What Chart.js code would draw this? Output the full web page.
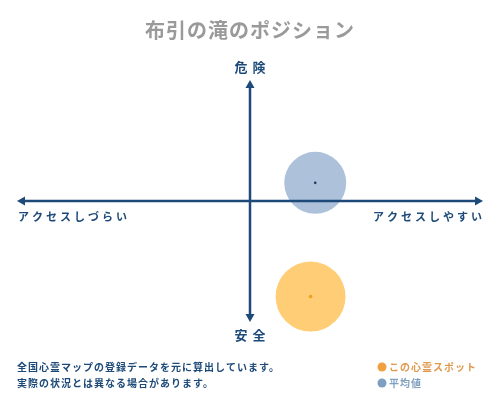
<!DOCTYPE html>
<html>
<head>
<meta charset="utf-8">
<script src="https://cdn.jsdelivr.net/npm/chart.js@4"></script>
<style>
  html, body { margin: 0; padding: 0; background: #fff; }
  #wrap { width: 500px; height: 400px; }
</style>
</head>
<body>
<div id="wrap"><canvas id="pos"></canvas></div>
<script>
// position of this spot and of the average (x: access, y: danger), range -10..10
const spotNames = ["この心霊スポット", "平均値"];
const spotX = [2.6, 2.8];
const spotY = [-7.9, 1.5];
const spotR = [35, 31];

const titleText = "布引の滝のポジション";
const axisTop = "危険", axisBottom = "安全";
const axisLeft = "アクセスしづらい", axisRight = "アクセスしやすい";
const noteLines = ["全国心霊マップの登録データを元に算出しています。", "実際の状況とは異なる場合があります。"];

const navy = "#1d4a78";
const font = "'Noto Sans CJK JP', 'DejaVu Serif', serif";

// axes with arrows (on top of the bubbles) plus all the labels
const decor = {
  id: "decor",
  afterDatasetsDraw(chart) {
    const ctx = chart.ctx;
    const sx = chart.scales.x, sy = chart.scales.y;
    const cx = sx.getPixelForValue(0), cy = sy.getPixelForValue(0);
    const l = sx.getPixelForValue(-10), r = sx.getPixelForValue(10);
    const t = sy.getPixelForValue(10), b = sy.getPixelForValue(-10);
    ctx.save();
    ctx.strokeStyle = navy; ctx.fillStyle = navy; ctx.lineWidth = 2.5;
    ctx.beginPath();
    ctx.moveTo(l + 4, cy); ctx.lineTo(r - 4, cy);
    ctx.moveTo(cx, t + 4); ctx.lineTo(cx, b - 4);
    ctx.stroke();
    const arrow = (x, y, dx, dy) => {
      ctx.beginPath();
      ctx.moveTo(x, y);
      ctx.lineTo(x - dx * 8 - dy * 4.5, y - dy * 8 - dx * 4.5);
      ctx.lineTo(x - dx * 8 + dy * 4.5, y - dy * 8 + dx * 4.5);
      ctx.closePath(); ctx.fill();
    };
    arrow(r, cy, 1, 0); arrow(l, cy, -1, 0);
    arrow(cx, t, 0, -1); arrow(cx, b, 0, 1);
    ctx.restore();
  },
  afterDraw(chart) {
    const ctx = chart.ctx;
    const sx = chart.scales.x, sy = chart.scales.y;
    const cx = sx.getPixelForValue(0), cy = sy.getPixelForValue(0);
    const l = sx.getPixelForValue(-10), r = sx.getPixelForValue(10);
    const t = sy.getPixelForValue(10), b = sy.getPixelForValue(-10);
    ctx.save();
    ctx.textBaseline = "middle";
    // title
    ctx.fillStyle = "#9a9a9a";
    ctx.font = "bold 20px " + font;
    ctx.letterSpacing = "1px";
    ctx.textAlign = "center";
    ctx.fillText(titleText, 250, 30);
    // axis names
    ctx.fillStyle = navy;
    ctx.font = "bold 13px " + font;
    ctx.letterSpacing = "5px";
    ctx.fillText(axisTop, cx + 2.5, t - 13);
    ctx.fillText(axisBottom, cx + 2.5, b + 13);
    ctx.font = "bold 11px " + font;
    ctx.letterSpacing = "3px";
    ctx.textAlign = "left";
    ctx.fillText(axisLeft, l + 1, cy + 16);
    ctx.textAlign = "right";
    ctx.fillText(axisRight, r + 2, cy + 16);
    // notes
    ctx.font = "bold 10px " + font;
    ctx.letterSpacing = "1px";
    ctx.textAlign = "left";
    noteLines.forEach((s, i) => ctx.fillText(s, 17, 367 + i * 16));
    // legend
    const legCol = ["#f0a040", "#7f9fc0"];
    const legText = ["#e09a50", "#7f9fc0"];
    spotNames.forEach((s, i) => {
      const y = 367 + i * 16;
      ctx.fillStyle = legCol[i];
      ctx.beginPath(); ctx.arc(382, y, 4.5, 0, Math.PI * 2); ctx.fill();
      ctx.fillStyle = legText[i];
      ctx.fillText(s, 389, y);
    });
    ctx.restore();
  }
};

new Chart("pos", {
  type: "bubble",
  data: {
    datasets: [
      {
        label: "centers",
        data: spotX.map((x, i) => ({ x: x, y: spotY[i], r: i === 0 ? 1.8 : 1.3 })),
        backgroundColor: ["#f0a020", "#1d3a5a"],
        borderWidth: 0,
        clip: false
      },
      {
        label: spotNames[0],
        data: [{ x: spotX[0], y: spotY[0], r: spotR[0] }],
        backgroundColor: "#ffcd75",
        borderWidth: 0,
        clip: false
      },
      {
        label: spotNames[1],
        data: [{ x: spotX[1], y: spotY[1], r: spotR[1] }],
        backgroundColor: "#adc2da",
        borderWidth: 0,
        clip: false
      }
    ]
  },
  options: {
    responsive: true,
    maintainAspectRatio: false,
    animation: false,
    layout: { autoPadding: false, padding: { left: 17, right: 17, top: 80, bottom: 78 } },
    scales: {
      x: { display: false, min: -10, max: 10 },
      y: { display: false, min: -10, max: 10 }
    },
    plugins: {
      legend: { display: false },
      title: { display: false },
      tooltip: { enabled: false }
    }
  },
  plugins: [decor]
});
</script>
</body>
</html>
